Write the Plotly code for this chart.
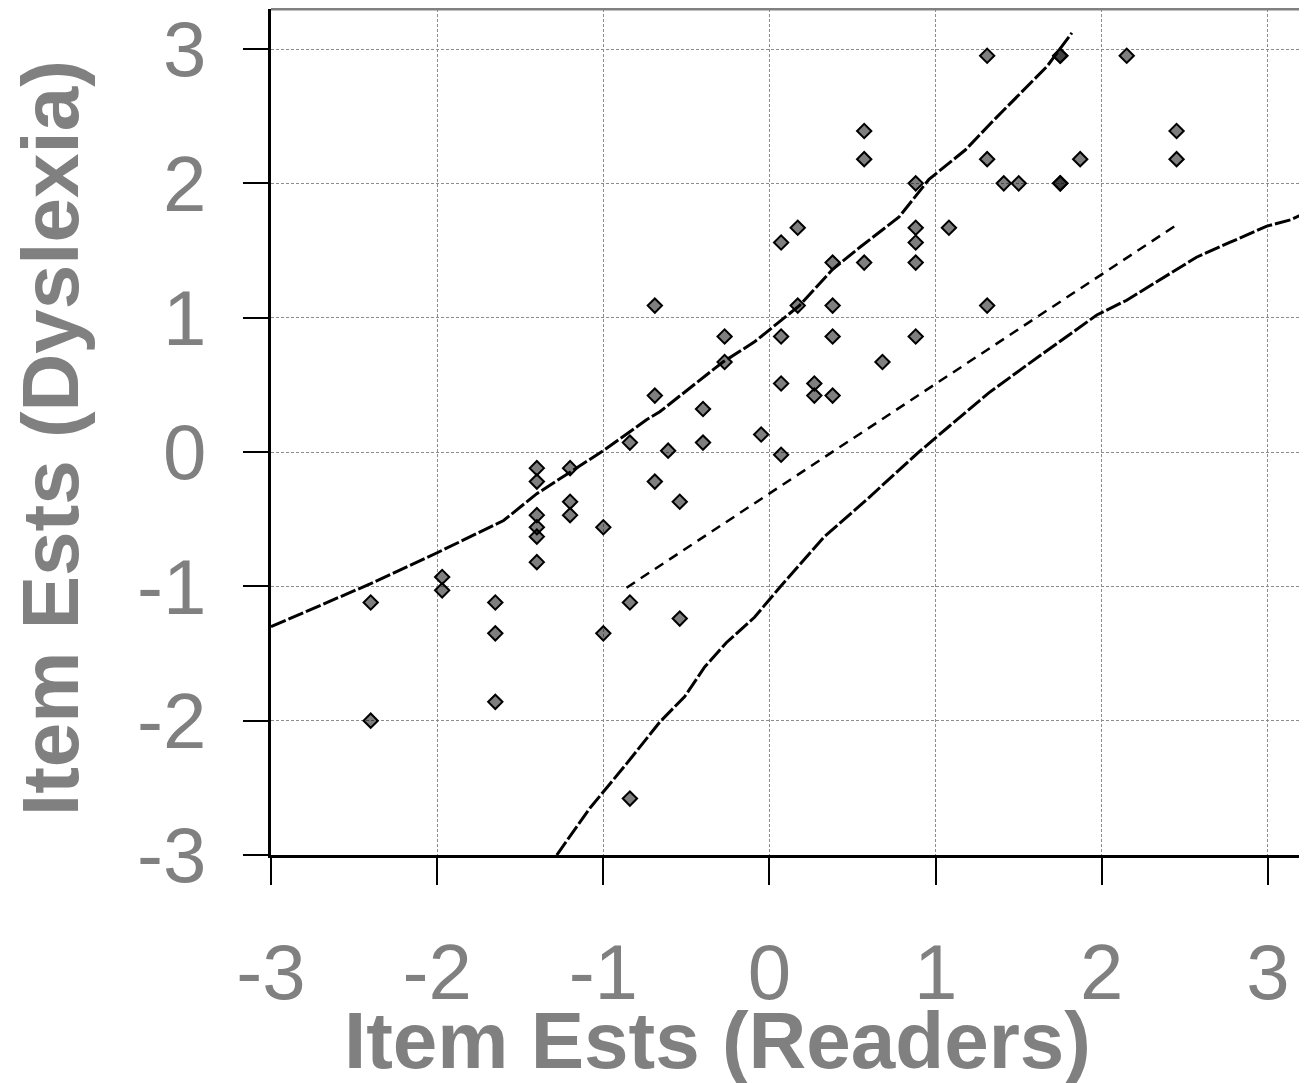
import plotly.graph_objects as go

# ---- Data ----
readers = [-2.40, -2.40, -1.97, -1.97, -1.65, -1.65, -1.65,
           -1.40, -1.40, -1.40, -1.40, -1.40, -1.40,
           -1.20, -1.20, -1.20, -1.00, -1.00,
           -0.84, -0.84, -0.84, -0.69, -0.69, -0.69, -0.61,
           -0.54, -0.54, -0.40, -0.40, -0.27, -0.27, -0.05,
           0.07, 0.07, 0.07, 0.07, 0.17, 0.17, 0.27, 0.27,
           0.38, 0.38, 0.38, 0.38, 0.57, 0.57, 0.57, 0.68,
           0.88, 0.88, 0.88, 0.88, 0.88, 1.08,
           1.31, 1.31, 1.31, 1.41, 1.50,
           1.75, 1.75, 1.75, 1.75, 1.87, 2.15, 2.45, 2.45]
dyslexia = [-1.12, -2.00, -0.93, -1.03, -1.12, -1.35, -1.86,
            -0.12, -0.22, -0.47, -0.56, -0.63, -0.82,
            -0.12, -0.37, -0.47, -0.56, -1.35,
            0.07, -1.12, -2.58, 1.09, 0.42, -0.22, 0.01,
            -0.37, -1.24, 0.32, 0.07, 0.86, 0.67, 0.13,
            1.56, 0.86, 0.51, -0.02, 1.67, 1.09, 0.51, 0.42,
            1.41, 1.09, 0.86, 0.42, 2.39, 2.18, 1.41, 0.67,
            2.00, 1.67, 1.56, 1.41, 0.86, 1.67,
            2.95, 2.18, 1.09, 2.00, 2.00,
            2.95, 2.95, 2.00, 2.00, 2.18, 2.95, 2.39, 2.18]

upper_x = [-3.00, -2.40, -2.00, -1.60, -1.40, -1.16, -1.00, -0.74, -0.66,
           -0.28, -0.09, 0.07, 0.18, 0.38, 0.55, 0.78, 0.96, 1.18, 1.35, 1.67, 1.82]
upper_y = [-1.30, -0.98, -0.75, -0.51, -0.31, -0.12, 0.01, 0.24, 0.30,
           0.67, 0.82, 0.98, 1.09, 1.36, 1.53, 1.75, 2.03, 2.25, 2.47, 2.87, 3.12]

lower_x = [-1.28, -1.08, -0.86, -0.66, -0.51, -0.39, -0.26, -0.09, 0.06, 0.21,
           0.33, 0.58, 0.89, 1.08, 1.32, 1.53, 1.73, 1.97, 2.15, 2.32, 2.57,
           2.77, 2.99, 3.14, 3.24]
lower_y = [-3.00, -2.65, -2.32, -2.01, -1.82, -1.60, -1.42, -1.23, -1.01, -0.80,
           -0.63, -0.36, -0.01, 0.19, 0.44, 0.63, 0.81, 1.02, 1.13, 1.26, 1.45,
           1.56, 1.68, 1.73, 1.79]

mid_x = [-0.86, 2.45]
mid_y = [-1.01, 1.69]

tick_vals = [-3, -2, -1, 0, 1, 2, 3]
tick_text = ["-3", "-2", "-1", "0", "1", "2", "3"]

x_title = "Item Ests (Readers)"
y_title = "Item Ests (Dyslexia)"

# ---- Figure ----
W, H = 1299, 1075          # page body has an 8px margin
L, R, T, B = 263, 0, 1, 228
pw, ph = W - L - R, H - T - B

fig = go.Figure()
fig.add_trace(go.Scatter(x=upper_x, y=upper_y, mode="lines",
                         line=dict(color="black", width=3, dash="16px,3px")))
fig.add_trace(go.Scatter(x=lower_x, y=lower_y, mode="lines",
                         line=dict(color="black", width=3, dash="16px,3px")))
fig.add_trace(go.Scatter(x=mid_x, y=mid_y, mode="lines",
                         line=dict(color="black", width=2.5, dash="10px,7px")))
fig.add_trace(go.Scatter(x=readers, y=dyslexia, mode="markers",
                         marker=dict(symbol="diamond", size=11,
                                     color="rgba(0,0,0,0.5)",
                                     line=dict(color="black", width=2))))

gray = "#808080"
tickfont = dict(family="Liberation Sans, Arial, sans-serif", size=78, color=gray)
titlefont = dict(family="Liberation Sans, Arial, sans-serif", size=80, color=gray)

fig.update_layout(
    width=W, height=H,
    margin=dict(l=L, r=R, t=T, b=B, autoexpand=False),
    paper_bgcolor="white", plot_bgcolor="white",
    showlegend=False,
    xaxis=dict(range=[-3, 3.235], tickvals=tick_vals, ticktext=tick_text,
               ticks="outside", ticklen=27, tickwidth=2, tickcolor="black",
               showline=True, linecolor="black", linewidth=3,
               showgrid=True, gridcolor="#8c8c8c", gridwidth=1, griddash="3px,2px",
               zeroline=False, tickfont=tickfont, ticklabelstandoff=20,
               ticklabeloverflow="allow", automargin=False),
    yaxis=dict(range=[-3, 3.298], tickvals=tick_vals, ticktext=tick_text,
               ticks="outside", ticklen=25, tickwidth=2, tickcolor="black",
               showline=True, linecolor="black", linewidth=3,
               showgrid=True, gridcolor="#8c8c8c", gridwidth=1, griddash="3px,2px",
               zeroline=False, tickfont=tickfont, ticklabelstandoff=21,
               ticklabeloverflow="allow", automargin=False),
    shapes=[dict(type="line", xref="paper", yref="paper", x0=0, x1=1, y0=1, y1=1,
                 line=dict(color=gray, width=3))],
    annotations=[
        dict(text="<b>" + x_title + "</b>", xref="paper", yref="paper",
             x=(709 - L) / pw, y=(847 - 1032) / ph,
             xanchor="center", yanchor="middle", showarrow=False, font=titlefont),
        dict(text="<b>" + y_title + "</b>", xref="paper", yref="paper",
             x=(42 - L) / pw, y=(847 - 430) / ph, textangle=-90,
             xanchor="center", yanchor="middle", showarrow=False, font=titlefont),
    ],
)

fig.write_html("out.html")
